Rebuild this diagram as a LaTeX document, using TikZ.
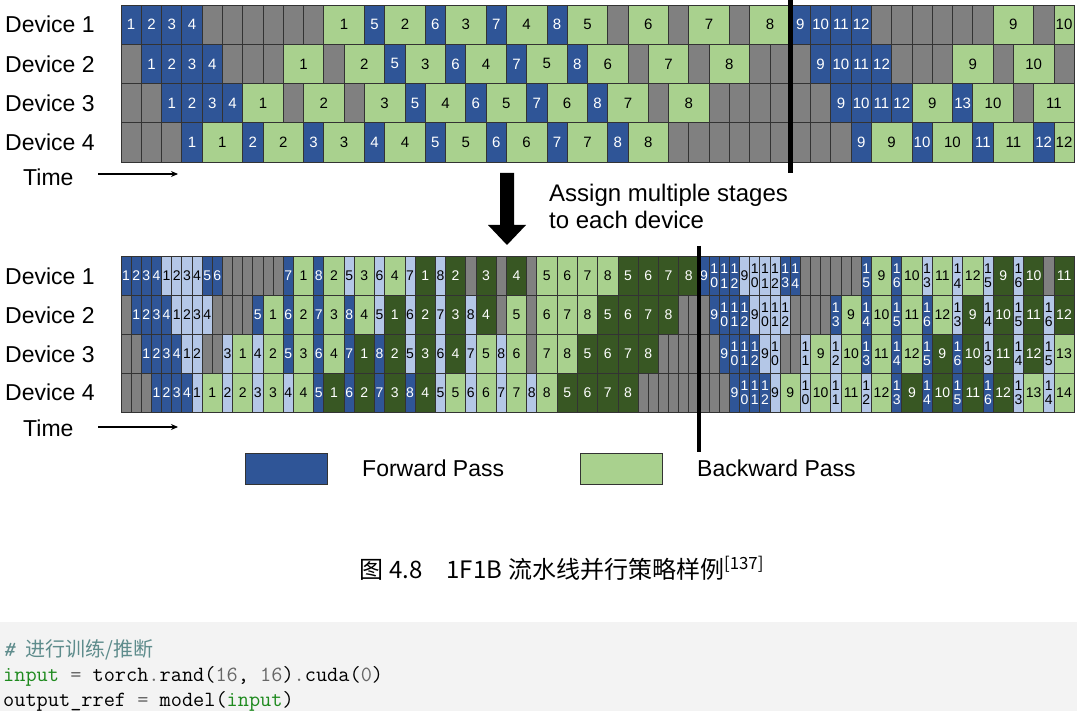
\documentclass[tikz,border=0pt]{standalone}
\usepackage{fontspec}
\setmainfont{Liberation Sans}
\newfontfamily\cjk{Noto Sans CJK SC}
\usetikzlibrary{arrows.meta}
\definecolor{cF}{HTML}{2F5597}
\definecolor{cL}{HTML}{B4C7E7}
\definecolor{cG}{HTML}{A9D18E}
\definecolor{cD}{HTML}{385723}
\definecolor{cI}{HTML}{808080}
\colorlet{tF}{white}
\colorlet{tL}{black}
\colorlet{tG}{black}
\colorlet{tD}{white}
\colorlet{tI}{white}
\definecolor{codebg}{HTML}{F3F3F3}
\definecolor{cmt}{HTML}{5E8C8C}
\definecolor{cop}{HTML}{666666}
\definecolor{cbi}{HTML}{1E8A1E}
\def\Ichar{I}
\newcommand\ganttrow[6]{%
  \gdef\gcur{0}%
  \foreach \t/\w/\n in {#6}{%
    \pgfmathsetmacro\xa{#1+\gcur*#3}%
    \pgfmathsetmacro\xb{#1+(\gcur+\w)*#3}%
    \pgfmathsetmacro\xm{(\xa+\xb)/2}%
    \filldraw[fill=c\t,draw=black!80,line width=0.7pt] (\xa,#2) rectangle (\xb,#2+#4);
    \ifx\t\Ichar
      \pgfmathtruncatemacro\wn{\w-1}%
      \ifnum\wn>0
        \foreach \k in {1,...,\wn}{\draw[black!80,line width=0.7pt] ({\xa+\k*#3},#2) -- ({\xa+\k*#3},#2+#4);}%
      \fi
    \else
      \node[text=t\t,font=#5,align=center,inner sep=0pt] at (\xm,#2+#4/2) {\n};
    \fi
    \pgfmathsetmacro\gnext{\gcur+\w}%
    \global\let\gcur\gnext
  }%
}
\tikzset{
  biglabel/.style={anchor=west,inner sep=0pt,font=\fontsize{23}{23}\selectfont},
  timearrow/.style={-{Stealth[length=7pt,width=6pt]},line width=1.1pt},
  legendbox/.style={draw=black!80,line width=0.8pt,minimum width=82pt,minimum height=31pt,inner sep=0pt},
  codeline/.style={anchor=base west,inner sep=0pt,font=\fontsize{21.7}{25}\selectfont\ttfamily}
}
\begin{document}
\begin{tikzpicture}[x=1pt,y=-1pt]
\useasboundingbox (0,0) rectangle (1077,711);
\fill[white] (0,0) rectangle (1077,711);

% ---------- top chart ----------
\ganttrow{121}{5}{20.28}{39.25}{\fontsize{15}{15}\selectfont}{F/1/1,F/1/2,F/1/3,F/1/4,I/6/{},G/2/1,F/1/5,G/2/2,F/1/6,G/2/3,F/1/7,G/2/4,F/1/8,G/2/5,I/1/{},G/2/6,I/1/{},G/2/7,I/1/{},G/2/8,F/1/9,F/1/10,F/1/11,F/1/12,I/6/{},G/2/9,I/1/{},G/1/10}
\ganttrow{121}{44.25}{20.28}{39.25}{\fontsize{15}{15}\selectfont}{I/1/{},F/1/1,F/1/2,F/1/3,F/1/4,I/3/{},G/2/1,I/1/{},G/2/2,F/1/5,G/2/3,F/1/6,G/2/4,F/1/7,G/2/5,F/1/8,G/2/6,I/1/{},G/2/7,I/1/{},G/2/8,I/3/{},F/1/9,F/1/10,F/1/11,F/1/12,I/3/{},G/2/9,I/1/{},G/2/10,I/1/{}}
\ganttrow{121}{83.5}{20.28}{39.25}{\fontsize{15}{15}\selectfont}{I/2/{},F/1/1,F/1/2,F/1/3,F/1/4,G/2/1,I/1/{},G/2/2,I/1/{},G/2/3,F/1/5,G/2/4,F/1/6,G/2/5,F/1/7,G/2/6,F/1/8,G/2/7,I/1/{},G/2/8,I/6/{},F/1/9,F/1/10,F/1/11,F/1/12,G/2/9,F/1/13,G/2/10,I/1/{},G/2/11}
\ganttrow{121}{122.75}{20.28}{39.25}{\fontsize{15}{15}\selectfont}{I/3/{},F/1/1,G/2/1,F/1/2,G/2/2,F/1/3,G/2/3,F/1/4,G/2/4,F/1/5,G/2/5,F/1/6,G/2/6,F/1/7,G/2/7,F/1/8,G/2/8,I/9/{},F/1/9,G/2/9,F/1/10,G/2/10,F/1/11,G/2/11,F/1/12,G/1/12}

\node[biglabel] (d1) at (5,24.6) {Device 1};
\node[biglabel] (d2) at (5,63.9) {Device 2};
\node[biglabel] (d3) at (5,103.1) {Device 3};
\node[biglabel] (d4) at (5,142.4) {Device 4};
\node[biglabel] (time1) at (23,177) {Time};
\coordinate (ta1) at (98,174);
\coordinate (tb1) at (178,174);
\draw[timearrow] (ta1) -- (tb1);
\draw[line width=5pt] (790.2,0) -- (790.2,173);

% ---------- middle ----------
\fill (500,173) -- (514,173) -- (514,225) -- (526,225) -- (507,245) -- (488,225) -- (500,225) -- cycle;
\node[anchor=base west,inner sep=0pt,font=\fontsize{24}{24}\selectfont] (as1) at (549,201.7) {Assign multiple stages};
\node[anchor=base west,inner sep=0pt,font=\fontsize{24}{24}\selectfont] (as2) at (549,229) {to each device};

% ---------- bottom chart ----------
\ganttrow{121}{256.5}{10.14}{38.9}{\fontsize{14}{14.5}\selectfont}{F/1/1,F/1/2,F/1/3,F/1/4,L/1/1,L/1/2,L/1/3,L/1/4,F/1/5,F/1/6,I/6/{},F/1/7,G/2/1,F/1/8,G/2/2,L/1/5,G/2/3,L/1/6,G/2/4,L/1/7,D/2/1,L/1/8,D/2/2,I/1/{},D/2/3,I/1/{},D/2/4,I/1/{},G/2/5,G/2/6,G/2/7,G/2/8,D/2/5,D/2/6,D/2/7,D/2/8,F/1/9,F/1/{1\\0},F/1/{1\\1},F/1/{1\\2},L/1/9,L/1/{1\\0},L/1/{1\\1},L/1/{1\\2},F/1/{1\\3},F/1/{1\\4},I/6/{},F/1/{1\\5},G/2/9,F/1/{1\\6},G/2/10,L/1/{1\\3},G/2/11,L/1/{1\\4},G/2/12,L/1/{1\\5},D/2/9,L/1/{1\\6},D/2/10,I/1/{},D/2/11}
\ganttrow{121}{295.4}{10.14}{38.9}{\fontsize{14}{14.5}\selectfont}{I/1/{},F/1/1,F/1/2,F/1/3,F/1/4,L/1/1,L/1/2,L/1/3,L/1/4,I/4/{},F/1/5,G/2/1,F/1/6,G/2/2,F/1/7,G/2/3,F/1/8,G/2/4,L/1/5,D/2/1,L/1/6,D/2/2,L/1/7,D/2/3,L/1/8,D/2/4,I/1/{},G/2/5,I/1/{},G/2/6,G/2/7,G/2/8,D/2/5,D/2/6,D/2/7,D/2/8,I/3/{},F/1/9,F/1/{1\\0},F/1/{1\\1},F/1/{1\\2},L/1/9,L/1/{1\\0},L/1/{1\\1},L/1/{1\\2},I/4/{},F/1/{1\\3},G/2/9,F/1/{1\\4},G/2/10,F/1/{1\\5},G/2/11,F/1/{1\\6},G/2/12,L/1/{1\\3},D/2/9,L/1/{1\\4},D/2/10,L/1/{1\\5},D/2/11,L/1/{1\\6},D/2/12}
\ganttrow{121}{334.3}{10.14}{38.9}{\fontsize{14}{14.5}\selectfont}{I/2/{},F/1/1,F/1/2,F/1/3,F/1/4,L/1/1,L/1/2,I/2/{},L/1/3,G/2/1,L/1/4,G/2/2,F/1/5,G/2/3,F/1/6,G/2/4,F/1/7,D/2/1,F/1/8,D/2/2,L/1/5,D/2/3,L/1/6,D/2/4,L/1/7,G/2/5,L/1/8,G/2/6,I/1/{},G/2/7,G/2/8,D/2/5,D/2/6,D/2/7,D/2/8,I/6/{},F/1/9,F/1/{1\\0},F/1/{1\\1},F/1/{1\\2},L/1/9,L/1/{1\\0},I/2/{},L/1/{1\\1},G/2/9,L/1/{1\\2},G/2/10,F/1/{1\\3},G/2/11,F/1/{1\\4},G/2/12,F/1/{1\\5},D/2/9,F/1/{1\\6},D/2/10,L/1/{1\\3},D/2/11,L/1/{1\\4},D/2/12,L/1/{1\\5},G/2/13}
\ganttrow{121}{373.2}{10.14}{38.9}{\fontsize{14}{14.5}\selectfont}{I/3/{},F/1/1,F/1/2,F/1/3,F/1/4,L/1/1,G/2/1,L/1/2,G/2/2,L/1/3,G/2/3,L/1/4,G/2/4,F/1/5,D/2/1,F/1/6,D/2/2,F/1/7,D/2/3,F/1/8,D/2/4,L/1/5,G/2/5,L/1/6,G/2/6,L/1/7,G/2/7,L/1/8,G/2/8,D/2/5,D/2/6,D/2/7,D/2/8,I/9/{},F/1/9,F/1/{1\\0},F/1/{1\\1},F/1/{1\\2},L/1/9,G/2/9,L/1/{1\\0},G/2/10,L/1/{1\\1},G/2/11,L/1/{1\\2},G/2/12,F/1/{1\\3},D/2/9,F/1/{1\\4},D/2/10,F/1/{1\\5},D/2/11,F/1/{1\\6},D/2/12,L/1/{1\\3},G/2/13,L/1/{1\\4},G/2/14}

\node[biglabel] (e1) at (5,276) {Device 1};
\node[biglabel] (e2) at (5,314.9) {Device 2};
\node[biglabel] (e3) at (5,353.8) {Device 3};
\node[biglabel] (e4) at (5,392.7) {Device 4};
\node[biglabel] (time2) at (23,428) {Time};
\coordinate (ta2) at (98,427);
\coordinate (tb2) at (178,427);
\draw[timearrow] (ta2) -- (tb2);
\draw[line width=4.5pt] (699,246) -- (699,452);

% ---------- legend ----------
\node[legendbox,fill=cF] (fwbox) at (286,468.5) {};
\node[biglabel] (fwtext) at (362,468.5) {Forward Pass};
\node[legendbox,fill=cG] (bwbox) at (621,468.5) {};
\node[biglabel] (bwtext) at (697,468.5) {Backward Pass};

% ---------- caption ----------
\node[anchor=west,inner sep=0pt] (cap) at (359,568) {\cjk\fontsize{24}{24}\selectfont 图\hspace{0.25em}4.8\hspace{1em}1F1B\hspace{0.25em}流水线并行策略样例\textsuperscript{[137]}};

% ---------- code ----------
\fill[codebg] (0,622) rectangle (1077,711);
\node[codeline] (code1) at (3,656) {\color{cmt}\itshape\#\upshape\ {\cjk\fontsize{20}{25}\selectfont 进行训练/推断}};
\node[codeline] (code2) at (3,681) {{\color{cbi}input} {\color{cop}=} torch{\color{cop}.}rand({\color{cop}16}, {\color{cop}16}){\color{cop}.}cuda({\color{cop}0})};
\node[codeline] (code3) at (3,706) {output\_rref {\color{cop}=} model({\color{cbi}input})};
\end{tikzpicture}
\end{document}
